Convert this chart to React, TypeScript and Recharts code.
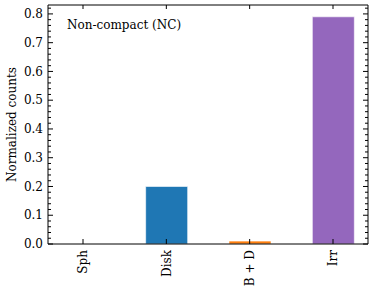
import { BarChart, Bar, XAxis, YAxis, Cell } from 'recharts';

const categories = ['Sph', 'Disk', 'B + D', 'Irr'];
const counts = [0, 0.2, 0.01, 0.79];
const barColors = ['#d62728', '#1f77b4', '#ff7f0e', '#9467bd'];
const majorYTicks = [0, 0.1, 0.2, 0.3, 0.4, 0.5, 0.6, 0.7, 0.8];
const minorYTicks = [
  0.02, 0.04, 0.06, 0.08, 0.12, 0.14, 0.16, 0.18, 0.22, 0.24, 0.26, 0.28,
  0.32, 0.34, 0.36, 0.38, 0.42, 0.44, 0.46, 0.48, 0.52, 0.54, 0.56, 0.58,
  0.62, 0.64, 0.66, 0.68, 0.72, 0.74, 0.76, 0.78, 0.82,
];
const xTicks = [0, 1, 2, 3];

const data = categories.map((name, i) => ({ pos: i, name, value: counts[i] }));
const allYTicks = [...majorYTicks, ...minorYTicks].sort((a, b) => a - b);

const FONT = 'DejaVu Serif';
const X_DOMAIN: [number, number] = [-0.42, 3.42];
const Y_DOMAIN: [number, number] = [0, 0.831];
const MARGIN = { top: 4, right: 5, bottom: 0, left: 8 };
const PLOT_TOP = MARGIN.top + 1; // top axis is 1px high
const isMajor = (v: number) => majorYTicks.some((m) => Math.abs(m - v) < 1e-6);

// bottom axis: rotated label + inward ticks at bottom and top (tickSize 0, tickMargin 6)
const renderXLabel = ({ x, y, payload }: any) => (
  <g key={`xb-${payload.value}`}>
    <line x1={x} x2={x} y1={y - 6} y2={y - 11} stroke="#000" />
    <line x1={x} x2={x} y1={PLOT_TOP} y2={PLOT_TOP + 4} stroke="#000" />
    <text
      x={x}
      y={y}
      transform={`rotate(-90 ${x} ${y})`}
      textAnchor="end"
      dy="0.35em"
      fontFamily={FONT}
      fontSize={12}
      fill="#000"
    >
      {categories[payload.value]}
    </text>
  </g>
);

// left axis: label on majors + inward ticks (tickSize 0, tickMargin 5)
const renderYLeftTick = ({ x, y, payload }: any) => {
  const major = isMajor(payload.value);
  return (
    <g key={`yl-${payload.value}`}>
      <line x1={x + 5} x2={x + 5 + (major ? 5 : 3)} y1={y} y2={y} stroke="#000" />
      {major && (
        <text x={x} y={y} dy="0.35em" textAnchor="end" fontFamily={FONT} fontSize={12} fill="#000">
          {payload.value.toFixed(1)}
        </text>
      )}
    </g>
  );
};

// right axis: inward ticks only (tickSize 0, tickMargin 0)
const renderYRightTick = ({ x, y, payload }: any) => {
  const major = isMajor(payload.value);
  return <line key={`yr-${payload.value}`} x1={x} x2={x - (major ? 5 : 3)} y1={y} y2={y} stroke="#000" />;
};

const App = () => {
  return (
    <div style={{ position: 'absolute', left: 0, top: 0, background: '#fff' }}>
      <BarChart width={374} height={294} data={data} margin={MARGIN}>
        <XAxis
          xAxisId="x"
          dataKey="pos"
          type="number"
          domain={X_DOMAIN}
          allowDataOverflow
          ticks={xTicks}
          interval={0}
          height={50}
          tickLine={false}
          tickSize={0}
          tickMargin={6}
          tick={renderXLabel}
          axisLine={{ stroke: '#000' }}
        />
        <XAxis
          xAxisId="xt"
          orientation="top"
          dataKey="pos"
          type="number"
          domain={X_DOMAIN}
          allowDataOverflow
          ticks={xTicks}
          height={1}
          tickLine={false}
          tick={false}
          axisLine={{ stroke: '#000' }}
        />
        <YAxis
          yAxisId="y"
          domain={Y_DOMAIN}
          allowDataOverflow
          ticks={allYTicks}
          interval={0}
          width={40}
          tickLine={false}
          tickSize={0}
          tickMargin={5}
          tick={renderYLeftTick}
          axisLine={{ stroke: '#000' }}
          label={{
            value: 'Normalized counts',
            angle: -90,
            position: 'insideLeft',
            offset: 4,
            style: { fontFamily: FONT, fontSize: 12, fill: '#000', textAnchor: 'middle' },
          }}
        />
        <YAxis
          yAxisId="yr"
          orientation="right"
          domain={Y_DOMAIN}
          allowDataOverflow
          ticks={allYTicks}
          interval={0}
          width={1}
          tickLine={false}
          tickSize={0}
          tickMargin={0}
          tick={renderYRightTick}
          axisLine={{ stroke: '#000' }}
        />
        <Bar
          xAxisId="x"
          yAxisId="y"
          dataKey="value"
          barSize={42}
          stroke="#ffffff"
          strokeOpacity={0.6}
          strokeWidth={1}
          isAnimationActive={false}
        >
          {data.map((d, i) => (
            <Cell key={d.name} fill={barColors[i]} />
          ))}
        </Bar>
        <Bar
          xAxisId="xt"
          yAxisId="yr"
          dataKey="value"
          barSize={42}
          fill="none"
          stroke="none"
          isAnimationActive={false}
        />
        <text x={67} y={29} fontFamily={FONT} fontSize={12} fill="#000">
          Non-compact (NC)
        </text>
      </BarChart>
    </div>
  );
};

export default App;
